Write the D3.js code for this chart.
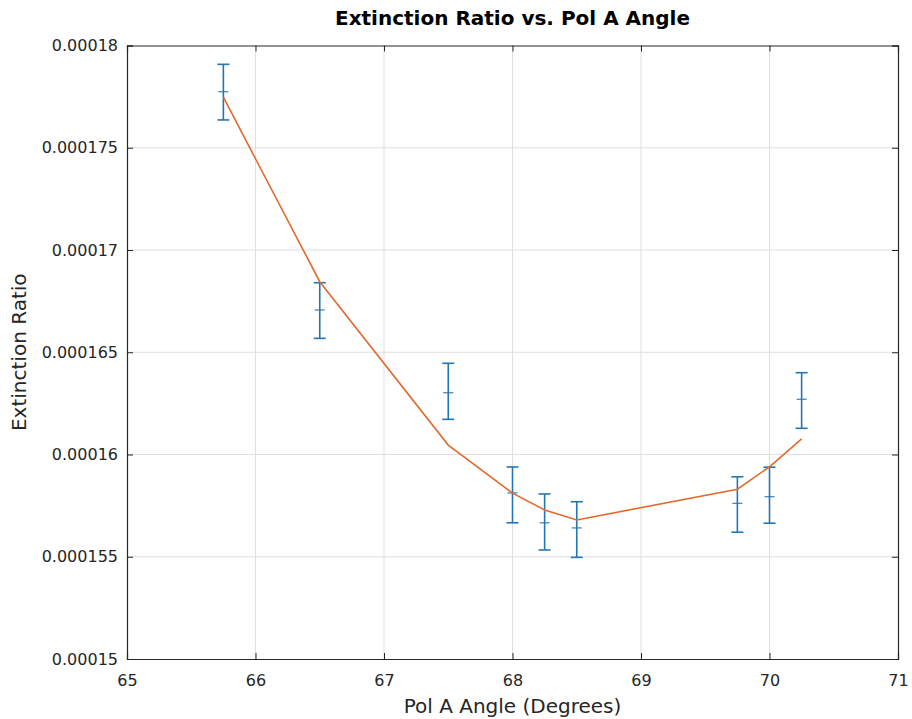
<!DOCTYPE html>
<html><head><meta charset="utf-8">
<script src="https://cdn.jsdelivr.net/npm/d3@7"></script>
<style>body{margin:0;background:#fff;font-family:"DejaVu Sans",sans-serif;}</style>
</head><body><svg id="c" width="912" height="719"></svg>
<script>
const angles = [65.75, 66.5, 67.5, 68, 68.25, 68.5, 69.75, 70, 70.25];
const measured = [0.00017774, 0.00016707, 0.00016302, 0.00015812, 0.00015666, 0.00015641, 0.00015761, 0.00015794, 0.0001627];
const upper = [0.00017908, 0.0001684, 0.00016446, 0.00015939, 0.00015807, 0.00015769, 0.00015891, 0.00015938, 0.000164];
const lower = [0.00017636, 0.00016568, 0.00016172, 0.00015666, 0.00015533, 0.00015497, 0.0001562, 0.00015664, 0.00016128];
const fitted = [0.00017747, 0.00016845, 0.00016046, 0.00015811, 0.00015729, 0.0001568, 0.0001583, 0.0001594, 0.00016076];
const xTicks = [65, 66, 67, 68, 69, 70, 71];
const yTicks = [0.00015, 0.000155, 0.00016, 0.000165, 0.00017, 0.000175, 0.00018];
const yTickLabels = ["0.00015", "0.000155", "0.00016", "0.000165", "0.00017", "0.000175", "0.00018"];

const svg = d3.select("#c");
const L = 127, R = 898, T = 45.5, B = 659;
const x = d3.scaleLinear().domain([65, 71]).range([L, R]);
const y = d3.scaleLinear().domain([0.00015, 0.00018]).range([B, T]);
const textCol = "#262626";

// grid
const g = svg.append("g");
g.selectAll(".gx").data(xTicks.slice(1, -1)).join("line")
  .attr("x1", d => x(d)).attr("x2", d => x(d)).attr("y1", T).attr("y2", B)
  .attr("stroke", "#dfdfdf").attr("stroke-width", 1);
g.selectAll(".gy").data(yTicks.slice(1, -1)).join("line")
  .attr("y1", d => y(d)).attr("y2", d => y(d)).attr("x1", L).attr("x2", R)
  .attr("stroke", "#dfdfdf").attr("stroke-width", 1);

// axes (ticks inward)
const xAxisB = d3.axisBottom(x).tickValues(xTicks).tickSize(-6).tickPadding(16).tickFormat(d3.format("d"));
const xAxisT = d3.axisTop(x).tickValues(xTicks).tickSize(-6).tickFormat("");
const yAxisL = d3.axisLeft(y).tickValues(yTicks).tickSize(-6).tickPadding(9).tickFormat((d, i) => yTickLabels[i]);
const yAxisR = d3.axisRight(y).tickValues(yTicks).tickSize(-6).tickFormat("");
function style(sel) {
  sel.selectAll(".domain").attr("stroke", textCol).attr("stroke-width", 1.2);
  sel.selectAll(".tick line").attr("stroke", textCol).attr("stroke-width", 1);
  sel.selectAll("text").attr("fill", textCol).style("font-family", "DejaVu Sans").style("font-size", "16px");
}
svg.append("g").attr("transform", `translate(0,${B})`).call(xAxisB).call(style);
svg.append("g").attr("transform", `translate(0,${T})`).call(xAxisT).call(style);
svg.append("g").attr("transform", `translate(${L},0)`).call(yAxisL).call(style);
svg.append("g").attr("transform", `translate(${R},0)`).call(yAxisR).call(style);

// error bars
const data = angles.map((a, i) => ({a, m: measured[i], u: upper[i], l: lower[i], f: fitted[i]}));
const eb = svg.append("g").attr("stroke", "#2476b3").attr("stroke-width", 1.6).attr("fill", "none");
const cw = 6;
data.forEach(d => {
  const cx = x(d.a);
  eb.append("line").attr("x1", cx).attr("x2", cx).attr("y1", y(d.u)).attr("y2", y(d.l));
  eb.append("line").attr("x1", cx - cw).attr("x2", cx + cw).attr("y1", y(d.u)).attr("y2", y(d.u));
  eb.append("line").attr("x1", cx - cw).attr("x2", cx + cw).attr("y1", y(d.l)).attr("y2", y(d.l));
  eb.append("line").attr("x1", cx - cw + 1).attr("x2", cx + cw - 1).attr("y1", y(d.m)).attr("y2", y(d.m))
    .attr("stroke-width", 1.3).attr("stroke-opacity", 0.85);
});

// fit line
svg.append("path").datum(data)
  .attr("d", d3.line().x(d => x(d.a)).y(d => y(d.f)))
  .attr("fill", "none").attr("stroke", "#e06a2e").attr("stroke-width", 1.6);

// labels
svg.append("text").attr("x", x(68)).attr("y", 25).attr("text-anchor", "middle")
  .style("font-family", "DejaVu Sans").style("font-weight", "bold").style("font-size", "20px")
  .attr("fill", "#000").text("Extinction Ratio vs. Pol A Angle");
svg.append("text").attr("x", x(68)).attr("y", 713).attr("text-anchor", "middle")
  .style("font-family", "DejaVu Sans").style("font-size", "20px").attr("fill", textCol)
  .text("Pol A Angle (Degrees)");
svg.append("text").attr("transform", `translate(26,${(T + B) / 2}) rotate(-90)`).attr("text-anchor", "middle")
  .style("font-family", "DejaVu Sans").style("font-size", "20px").attr("fill", textCol)
  .text("Extinction Ratio");
</script>
</body></html>
